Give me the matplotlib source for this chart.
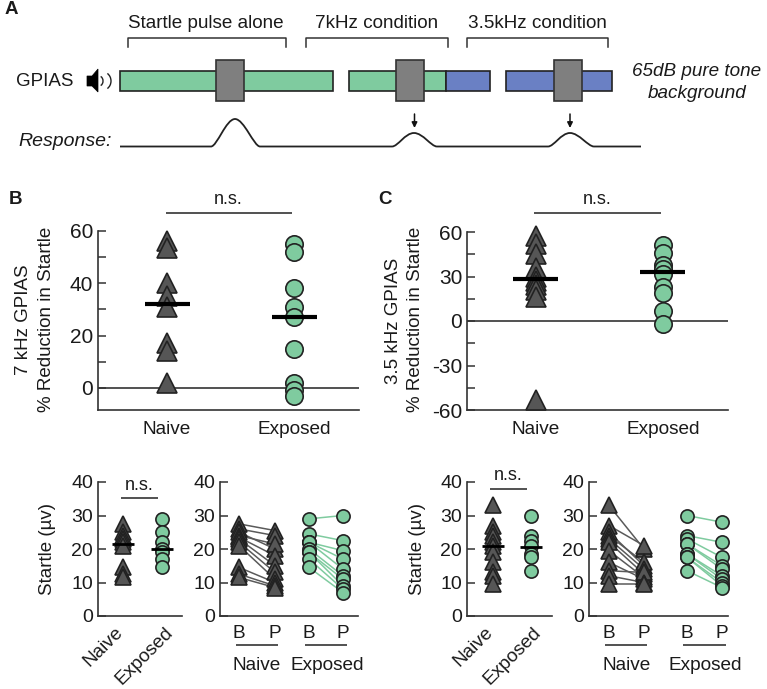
import matplotlib
matplotlib.use('Agg')
import matplotlib.pyplot as plt
from matplotlib.patches import Rectangle, PathPatch, Polygon, Arc
from matplotlib.path import Path

plt.rcParams['font.family'] = ['Liberation Sans', 'DejaVu Sans']
plt.rcParams['axes.unicode_minus'] = False

W, H = 767, 689
GREEN = '#7FCB9F'
BLUE = '#6A80C4'
GREY = '#7F7F7F'
DARK = '#565656'
EDGE = '#222222'
AXC = '#333333'

# group comparison, top row
b_naive = [56, 53.5, 40, 35, 31, 17, 14, 2]
b_exposed = [55, 52, 38, 31, 27, 15, 2, -1, -3]
b_means = [32, 27]
c_naive = [57, 52, 45, 36, 30, 27, 24, 21, 16, -53]
c_exposed = [51, 46, 38, 35, 32, 23, 19, 7, -2]
c_means = [28.5, 33]

# startle amplitude, bottom row
b_base_naive = [27.5, 26, 25, 24, 23.5, 23, 22, 21, 14.5, 12.5, 11.5]
b_post_naive = [25.5, 24, 20, 21.5, 18, 15, 13, 11, 10, 9, 8.5]
b_base_exposed = [29, 24.5, 22, 22, 22, 20, 19, 19, 17, 14.5]
b_post_exposed = [30, 22.5, 19.5, 17, 14, 12, 11, 9, 8, 7]
b_startle_means = [21.5, 20]
b_single_naive = [27.5, 25, 24, 23, 22, 21, 14.5, 12.5, 11.5]
b_single_exposed = [29, 25, 22, 20, 19, 17, 14.5]

c_base_naive = [33, 27, 25, 24, 23, 22, 19.5, 16, 13.5, 12, 9.5]
c_post_naive = [20, 21, 15, 16, 14, 12.5, 11.5, 11, 13, 10, 9.5]
c_base_exposed = [30, 24, 23, 21.5, 21.5, 18.5, 18.5, 17.5, 17.5, 13.5]
c_post_exposed = [28, 22, 17.5, 15, 14, 12, 11, 10, 9, 8.5]
c_startle_means = [20.8, 20.6]
c_single_naive = [33, 27, 25, 24, 22, 21, 19, 16, 13, 12, 9.5]
c_single_exposed = [30, 24, 22.5, 21, 18.5, 17.5, 13.5]

group_labels = ['Naive', 'Exposed']

# schematic in panel A, pixel positions
green_bars = [(120, 332.5), (349, 446)]
blue_bars = [(446, 490), (506, 612)]
grey_blocks = [(216, 244), (396, 423.5), (553.5, 581.5)]
brackets = [(127.5, 286), (306, 447.5), (467, 608)]
bracket_text = ['Startle pulse alone', '7kHz condition', '3.5kHz condition']
bracket_text_x = [206, 376.5, 537]
response_bumps = [(211, 235, 260, 119), (392, 414, 437, 133), (548, 570, 594, 133)]
arrow_x = [414.5, 570]

fig = plt.figure(figsize=(W / 100, H / 100), dpi=100)


def px_axes(left, top, right, bottom):
    return fig.add_axes([left / W, 1 - bottom / H, (right - left) / W, (bottom - top) / H])


over = fig.add_axes([0, 0, 1, 1], zorder=5)
over.set_xlim(0, W)
over.set_ylim(H, 0)
over.axis('off')
over.patch.set_alpha(0)


def label(x, y, s, size=13.7, **kw):
    kw.setdefault('ha', 'center')
    over.text(x, y, s, fontsize=size, va='center', color='#1a1a1a', **kw)


def hline(x0, x1, y, lw=1.2):
    over.plot([x0, x1], [y, y], color=AXC, lw=lw, solid_capstyle='butt')


def style_axes(ax, majors, minors, size):
    for side in ['top', 'right']:
        ax.spines[side].set_visible(False)
    for side in ['left', 'bottom']:
        ax.spines[side].set_linewidth(1.2)
        ax.spines[side].set_color(AXC)
    ax.patch.set_alpha(0)
    ax.set_xticks([])
    ax.set_yticks(majors)
    ax.set_yticks(minors, minor=True)
    ax.tick_params(axis='y', which='both', direction='in', length=5.5, width=1.1,
                   color=AXC, labelsize=size, labelcolor='#1a1a1a', pad=3.5)


def draw_group(ax, x, values, color, marker, ms):
    ax.plot([x] * len(values), values, ls='none', marker=marker, ms=ms, mfc=color,
            mec=EDGE, mew=1.2, clip_on=False, zorder=3)


def draw_means(ax, means, half, lw):
    for i, m in enumerate(means):
        ax.plot([i - half, i + half], [m, m], color='black', lw=lw,
                solid_capstyle='butt', clip_on=False, zorder=4)


def top_panel(left, x0, x1, right, ylim, majors, minors, naive, exposed, means):
    ax = px_axes(left, 231 if ylim[0] > -20 else 232, right, 410)
    unit = x1 - x0
    ax.set_xlim((left - x0) / unit, (right - x0) / unit)
    ax.set_ylim(*ylim)
    style_axes(ax, majors, minors, 15)
    ax.axhline(0, color=AXC, lw=1.2, zorder=1)
    draw_group(ax, 0, naive, DARK, '^', 15)
    draw_group(ax, 1, exposed, GREEN, 'o', 12.5)
    draw_means(ax, means, 22.5 / unit, 3)
    return ax


def single_panel(left, x0, x1, right, naive, exposed, means):
    ax = px_axes(left, 482, right, 616)
    unit = x1 - x0
    ax.set_xlim((left - x0) / unit, (right - x0) / unit)
    ax.set_ylim(0, 40)
    style_axes(ax, [0, 10, 20, 30, 40], [], 14)
    draw_group(ax, 0, naive, DARK, '^', 12)
    draw_group(ax, 1, exposed, GREEN, 'o', 9.5)
    draw_means(ax, means, 11 / unit, 2)
    return ax


def paired_panel(left, xs, right, base_n, post_n, base_e, post_e):
    ax = px_axes(left, 482, right, 616)
    ax.set_xlim(left, right)
    ax.set_ylim(0, 40)
    style_axes(ax, [0, 10, 20, 30, 40], [], 14)
    for a, b in zip(base_n, post_n):
        ax.plot(xs[:2], [a, b], color='#5a5a5a', lw=1.1, zorder=2)
    for a, b in zip(base_e, post_e):
        ax.plot(xs[2:], [a, b], color=GREEN, lw=1.1, zorder=2)
    draw_group(ax, xs[0], base_n, DARK, '^', 12)
    draw_group(ax, xs[1], post_n, DARK, '^', 12)
    draw_group(ax, xs[2], base_e, GREEN, 'o', 9.5)
    draw_group(ax, xs[3], post_e, GREEN, 'o', 9.5)
    return ax


top_panel(98, 167, 294, 359, (-8.5, 60), [0, 20, 40, 60], [10, 30, 50],
          b_naive, b_exposed, b_means)
top_panel(467, 536, 663, 728, (-60, 60), [-60, -30, 0, 30, 60], [-45, -15, 15, 45],
          c_naive, c_exposed, c_means)
single_panel(98, 123, 162, 182, b_single_naive, b_single_exposed, b_startle_means)
single_panel(467, 493, 531, 552, c_single_naive, c_single_exposed, c_startle_means)
paired_panel(220, [239, 275, 309, 343], 358, b_base_naive, b_post_naive, b_base_exposed, b_post_exposed)
paired_panel(589, [609, 644, 687, 722], 728, c_base_naive, c_post_naive, c_base_exposed, c_post_exposed)

# panel A
for (x0, x1) in green_bars:
    over.add_patch(Rectangle((x0, 71), x1 - x0, 19.5, fc=GREEN, ec=EDGE, lw=1.2))
for (x0, x1) in blue_bars:
    over.add_patch(Rectangle((x0, 71), x1 - x0, 19.5, fc=BLUE, ec=EDGE, lw=1.2))
for (x0, x1) in grey_blocks:
    over.add_patch(Rectangle((x0, 60), x1 - x0, 41, fc=GREY, ec='#333333', lw=1.2, zorder=3))
for (x0, x1), s, tx in zip(brackets, bracket_text, bracket_text_x):
    over.plot([x0, x0, x1, x1], [47, 38, 38, 47], color=AXC, lw=1.1)
    label(tx, 23, s, 13.6)

verts = [(120, 146.5)]
codes = [Path.MOVETO]
for (x0, xc, x1, peak) in response_bumps:
    verts += [(x0, 146.5),
              (x0 + 6, 146.5), (xc - 9, peak), (xc, peak),
              (xc + 9, peak), (x1 - 6, 146.5), (x1, 146.5)]
    codes += [Path.LINETO] + [Path.CURVE4] * 6
verts.append((641, 146.5))
codes.append(Path.LINETO)
over.add_patch(PathPatch(Path(verts, codes), fc='none', ec='#222222', lw=1.3))
for x in arrow_x:
    over.annotate('', xy=(x, 128), xytext=(x, 114),
                  arrowprops=dict(arrowstyle='-|>', color='#111111', lw=1.1, mutation_scale=8,
                                  shrinkA=0, shrinkB=0))

label(45, 81, 'GPIAS', 13.5)
label(112, 141, 'Response:', 14, ha='right', style='italic')
label(697, 71, '65dB pure tone', 13.6, style='italic')
label(697, 93, 'background', 13.6, style='italic')
over.add_patch(Polygon([(87, 76), (92, 76), (98, 69), (98, 92), (92, 86), (87, 86)],
                       fc='black', ec='black', lw=0.5))
over.add_patch(Arc((99, 81), 8, 10, theta1=-70, theta2=70, ec='#222222', lw=1))
over.add_patch(Arc((103, 81), 16, 18, theta1=-60, theta2=60, ec='#222222', lw=1))

# panel letters
for x, y, s in [(11, 10, 'A'), (16, 200, 'B'), (385, 200, 'C')]:
    label(x, y, s, 13.5, fontweight='bold')

# axis titles
label(24, 320, '7 kHz GPIAS', 13.5, rotation=90)
label(47, 319, '% Reduction in Startle', 13.5, rotation=90)
label(393, 321, '3.5 kHz GPIAS', 13.5, rotation=90)
label(416, 319, '% Reduction in Startle', 13.5, rotation=90)
label(48, 549, 'Startle (µv)', 13.5, rotation=90)
label(417, 549, 'Startle (µv)', 13.5, rotation=90)

# group names, top row
for x, s in zip([167, 294, 536, 663], group_labels * 2):
    label(x, 429, s)

# n.s. bars
label(228, 200, 'n.s.', 13)
hline(166, 292, 213)
label(597, 200, 'n.s.', 13)
hline(534, 661, 213)
label(139, 485, 'n.s.', 13)
hline(121, 158, 498)
label(508, 476, 'n.s.', 13)
hline(490, 527, 489)

# rotated names, bottom row
for x, s in zip([114, 164, 484, 532], group_labels * 2):
    over.text(x, 624, s, fontsize=13.7, rotation=45, ha='right', va='top',
              rotation_mode='anchor', color='#1a1a1a')

# B / P labels with group underlines
for x, s in zip([239, 275, 309, 343, 609, 644, 687, 722], ['B', 'P'] * 4):
    label(x, 633, s)
for (x0, x1) in [(236, 278), (305, 347), (605, 647), (683, 726)]:
    hline(x0, x1, 645)
for x, s in zip([257, 327, 627, 705], group_labels * 2):
    label(x, 666, s)

fig.savefig('out.png', dpi=100)
